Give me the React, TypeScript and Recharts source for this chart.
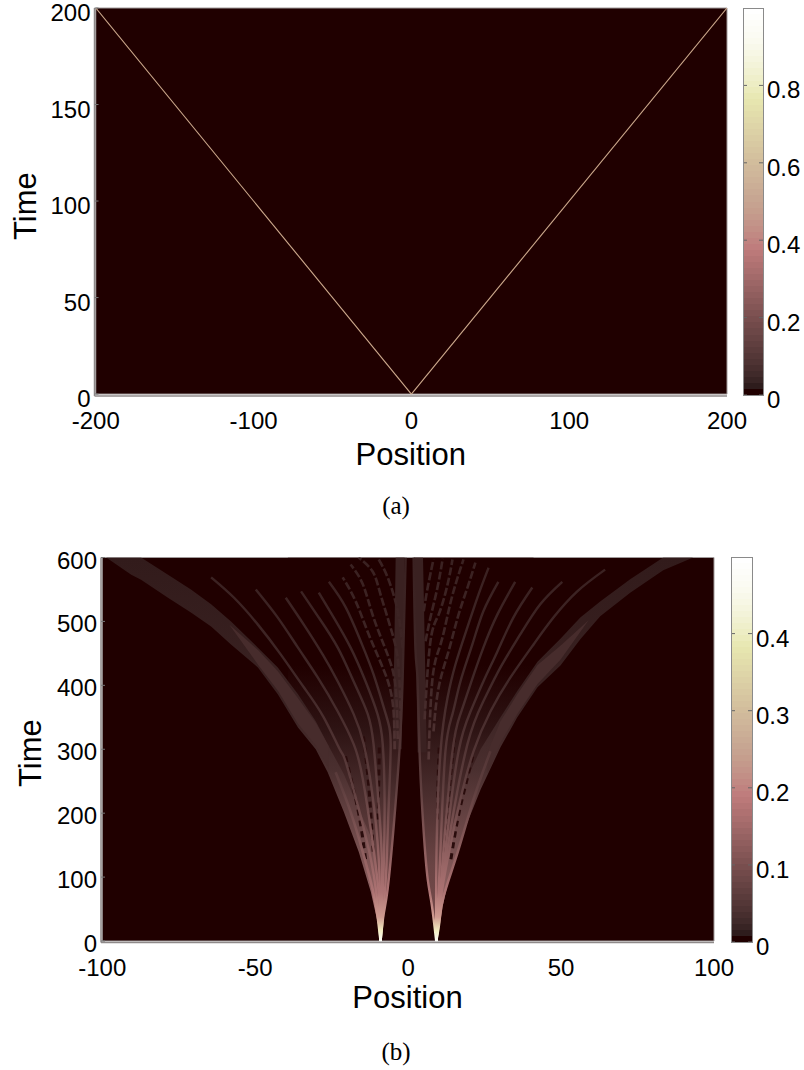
import { Area, Bar, BarChart, ComposedChart, Line, ReferenceArea, XAxis, YAxis } from 'recharts'

const FONT = '"Liberation Sans", Arial, sans-serif'
const BG = '#200000'
const FRAME = '#a09a9a'

// colour bar steps, bottom to top
const barColors = [
  '#200000', '#2e1c1c', '#382424', '#402a2a', '#472e2e', '#4e3333', '#543737', '#5a3b3b',
  '#603f3f', '#664343', '#6c4747', '#724a4a', '#784e4e', '#7e5252', '#845656', '#8a5a5a',
  '#905e5e', '#966262', '#9c6666', '#a36a6a', '#a96e6e', '#af7171', '#b57575', '#bb7979',
  '#bf7d7d', '#c08380', '#c18983', '#c28f86', '#c39489', '#c4998b', '#c59e8d', '#c6a290',
  '#c7a692', '#c9aa94', '#cbae96', '#cdb298', '#cfb69a', '#d0b99b', '#d2bd9c', '#d4c19e',
  '#d6c5a0', '#d8c9a2', '#dacda4', '#dcd1a6', '#ded5a8', '#e0d9aa', '#e2ddab', '#e4e1ad',
  '#e6e5af', '#e8e8b4', '#ebebbc', '#ededc4', '#efefcb', '#f1f1d2', '#f3f3d9', '#f5f5df',
  '#f7f7e5', '#f8f8ea', '#fafaef', '#fbfbf3', '#fcfcf6', '#fdfdf9', '#fefefc', '#ffffff',
]

// panel (a)
const aPosTicks = [-200, -100, 0, 100, 200]
const aTimeTicks = [0, 50, 100, 150, 200]
const aBarTicks = [0, 0.2, 0.4, 0.6, 0.8]
const aLeftFront = [[0, 0], [-200, 200]]
const aRightFront = [[0, 0], [200, 200]]

// panel (b)
const bPosTicks = [-100, -50, 0, 50, 100]
const bTimeTicks = [0, 100, 200, 300, 400, 500, 600]
const bBarTicks = [0, 0.1, 0.2, 0.3, 0.4]

// outer bands: [position, time at lower edge, time at upper edge]
const leftBand = [
  [-98.7, 600, 600], [-90.5, 573, 600], [-87.3, 565, 600], [-78.5, 537, 573], [-71, 514, 550], [-64.4, 492, 527],
  [-57.9, 464, 500], [-49.1, 428, 459], [-42.6, 386, 428], [-36, 334, 386], [-30.2, 300, 344], [-26.3, 264, 308],
  [-21, 202, 261], [-16.1, 139, 206], [-12.2, 77, 163], [-10, 30, 105], [-9, 0, 30], [-8.8, 0, 0],
]
const rightBand = [
  [9.2, 0, 0], [9.6, 0, 50], [11.3, 55, 108], [13.9, 108, 170], [18.1, 170, 242], [23.7, 237, 300], [30.2, 303, 350],
  [35.7, 350, 391], [42.3, 397, 437], [49.8, 431, 473], [56.3, 472, 506], [62.8, 508, 531], [72.6, 545, 566],
  [83.4, 580, 600], [93.2, 600, 600],
]
// brighter strand inside each band
const leftStrand = [[-58.5, 495, 495], [-49, 432, 455], [-42.6, 392, 422], [-36, 340, 380], [-30, 305, 340], [-26, 270, 305]]
const rightStrand = [[26, 262, 295], [30.2, 310, 344], [35.7, 355, 386], [42.3, 402, 432], [49.8, 440, 462], [59, 502, 502]]

const leftBandLine = [[-9, 0], [-10, 40], [-11.6, 81], [-14.8, 139], [-18.8, 202], [-23.7, 264]]
const leftInnerWide = [[-3.6, 300], [-3.2, 409], [-2.6, 600]]
const leftInner = [[-9, 0], [-8, 42], [-6.7, 81], [-4.7, 180], [-2.8, 300], [-1.8, 409], [-0.8, 600]]
const leftFan = [
  [[-9, 0], [-10, 58], [-12.9, 144], [-19.7, 269], [-22, 297], [-27.6, 350], [-34.1, 397], [-41.6, 448], [-49.1, 495], [-56.9, 537], [-64.4, 569]],
  [[-9, 0], [-9.3, 58], [-11.3, 144], [-14.8, 253], [-17.8, 308], [-23, 359], [-29.5, 412], [-36, 459], [-42.6, 506], [-49.8, 550]],
  [[-9, 0], [-9.6, 128], [-11.9, 237], [-14.5, 308], [-17.8, 355], [-23, 406], [-27.9, 448], [-34.1, 495], [-40, 537]],
  [[-9, 0], [-8.6, 128], [-10, 237], [-11.3, 308], [-13.2, 355], [-17.8, 406], [-23, 459], [-29.2, 506], [-35, 547]],
  [[-9, 0], [-8, 112], [-7.7, 222], [-8.3, 308], [-10, 355], [-13.9, 406], [-18.8, 459], [-24.3, 506], [-29.2, 545]],
  [[-9, 0], [-7.3, 97], [-6.4, 206], [-5.7, 308], [-7.3, 355], [-11.3, 417], [-15.5, 469], [-20.4, 522], [-25.9, 562]],
]
const leftFanDashed = [
  [[-4.4, 300], [-5.1, 375], [-8.3, 428], [-12.9, 480], [-17.1, 531], [-21.4, 569]],
  [[-3.4, 316], [-4.1, 397], [-6.7, 448], [-11.3, 506], [-14.8, 558], [-18.8, 589]],
  [[-2.4, 347], [-3.1, 428], [-5.1, 480], [-9, 542], [-11.6, 578], [-16.2, 600]],
  [[-1.8, 459], [-3.4, 516], [-6.7, 569], [-10, 600]],
]
const leftGaps = [
  [[-13.9, 128], [-15.8, 190], [-18, 240], [-20.5, 290]],
  [[-11.4, 140], [-12.2, 200], [-13.2, 260], [-14.6, 320]],
  [[-9.8, 190], [-9.6, 250], [-9.4, 310]],
]
const leftWedge = [[-39.3, 386], [-30.8, 312], [-27.6, 295], [-23.7, 264], [-18.8, 202], [-14.8, 139], [-11.6, 81], [-9, 0], [-8, 42], [-6.7, 81], [-4.7, 180], [-2.8, 300], [-1.8, 409], [-1.2, 600]]

// right source
const rightBandLine = [[9.2, 0], [10.2, 30], [11.6, 70], [16.2, 139], [21.4, 222], [26.9, 297]]
const rightInnerWide = [[4.6, 295], [4.2, 409], [3.4, 600]]
const rightInner = [[9.2, 0], [7.7, 58], [6.4, 97], [5.1, 170], [3.75, 295], [3.1, 409], [2.4, 456], [1.8, 600]]
const rightFan = [
  [[9.2, 0], [9.9, 42], [12.9, 128], [17.1, 222], [21.4, 297], [26.9, 359], [33.4, 412], [41, 464], [47.5, 506], [55.3, 547], [64.4, 581]],
  [[9.2, 0], [10.6, 66], [13.9, 175], [19.4, 308], [24.6, 375], [30.2, 428], [36.7, 480], [43.2, 527], [50.4, 562]],
  [[9.2, 0], [12.6, 159], [16.5, 297], [20.4, 359], [24.6, 406], [29.2, 453], [34.4, 506], [40.6, 553]],
  [[9.2, 0], [11.6, 144], [14.5, 297], [17.1, 355], [20.4, 402], [24.6, 459], [29.2, 511], [35, 562]],
  [[9.2, 0], [10.6, 144], [12.2, 297], [14.5, 355], [17.1, 406], [21, 464], [24.6, 516], [29.5, 562]],
  [[9.2, 0], [9.3, 144], [10.6, 297], [12.9, 381], [15.5, 433], [19.4, 491], [23, 542], [26.3, 584]],
]
const rightFanDashed = [
  [[8.3, 328], [10, 397], [13.2, 453], [16.2, 506], [19.4, 553], [22, 592]],
  [[6.7, 284], [8, 412], [10.6, 464], [13.2, 516], [15.5, 558], [18.1, 597]],
  [[5.4, 347], [7.3, 469], [10, 511], [12.9, 558], [14.5, 597]],
  [[5.7, 469], [7.3, 506], [9.6, 553], [11.3, 598]],
  [[5.1, 516], [6.4, 553], [8.3, 597]],
]
const rightGaps = [
  [[14, 128], [16.2, 190], [18.6, 240], [21.2, 290]],
  [[11.8, 140], [12.8, 200], [13.9, 260], [15.2, 320]],
  [[9.6, 190], [9.8, 250], [10.2, 310]],
]
const rightWedge = [[1.8, 600], [3.1, 409], [3.75, 295], [5.1, 170], [6.4, 97], [7.7, 58], [9.2, 0], [10.2, 30], [11.6, 70], [16.2, 139], [21.4, 222], [26.9, 297], [33.4, 359], [41, 412]]

const pts = (rows: number[][]) => rows.map(([x, t]) => ({ x, t }))
const wedge = (rows: number[][]) =>
  [...rows].sort((a, b) => a[0] - b[0]).map(([x, t]) => ({ x, range: [t, 600] }))
const band = (rows: number[][]) =>
  [...rows].sort((a, b) => a[0] - b[0]).map(([x, lo, hi]) => ({ x, range: [lo, hi] }))

const textStyle = { fontFamily: FONT, fontSize: 24, fill: '#000' }
const labelStyle = { fontFamily: FONT, fontSize: 31, fill: '#000' }

const xTick = (dy: number) => ({ x, y, payload }: any) => (
  <text x={x} y={y + dy} textAnchor="middle" {...textStyle}>{payload.value}</text>
)
// tick label plus the small notch that points into the plot
const yTick = (dy: number) => ({ x, y, payload }: any) => (
  <g>
    <line x1={x + 4} x2={x + 8} y1={y} y2={y} stroke="#777" />
    <text x={x} y={y + dy} textAnchor="end" {...textStyle}>{payload.value}</text>
  </g>
)
const barTick = (barWidth: number) => ({ x, y, payload }: any) => (
  <g>
    <line x1={x - 4} x2={x - 8} y1={y} y2={y} stroke="#666" />
    <line x1={x - 4 - barWidth} x2={x - barWidth} y1={y} y2={y} stroke="#666" />
    <text x={x} y={y + 13} textAnchor="start" {...textStyle}>{payload.value}</text>
  </g>
)

function ColorBar({ top, left, right, bottom, max, ticks }: any) {
  const row: Record<string, number> = {}
  barColors.forEach((_, i) => { row[`c${i}`] = max / barColors.length })
  return (
    <div style={{ position: 'absolute', left: 0, top: 0 }}>
      <BarChart
        width={804}
        height={bottom + 20}
        data={[row]}
        margin={{ top, left, right: 0, bottom: 20 }}
        barCategoryGap={0}
      >
        <XAxis hide />
        <YAxis
          orientation="right"
          width={804 - right}
          domain={[0, max]}
          ticks={ticks}
          axisLine={false}
          tickLine={false}
          tickSize={0}
          tickMargin={4}
          tick={barTick(right - left)}
          interval={0}
        />
        {barColors.map((c, i) => (
          <Bar key={c} dataKey={`c${i}`} stackId="cb" fill={c} shapeRendering="crispEdges" isAnimationActive={false} />
        ))}
      </BarChart>
      <div style={{ position: 'absolute', left, top, width: right - left - 1, height: bottom - top - 1, border: '1px solid #8a8a8a' }} />
    </div>
  )
}

function PanelA() {
  return (
    <div style={{ position: 'absolute', left: 0, top: 0 }}>
      <ComposedChart width={804} height={480} margin={{ top: 8, left: 0, right: 77, bottom: 54 }}>
        <XAxis
          type="number"
          dataKey="x"
          domain={[-200.8, 200]}
          ticks={aPosTicks}
          allowDataOverflow
          height={30}
          interval={0}
          tickLine={false}
          tickSize={0}
          tickMargin={0}
          stroke="#8f8a8a"
          strokeWidth={1.5}
          tick={xTick(33)}
          label={{ value: 'Position', position: 'bottom', offset: 17, style: labelStyle }}
        />
        <YAxis
          type="number"
          domain={[-1, 200]}
          ticks={aTimeTicks}
          allowDataOverflow
          width={94.5}
          interval={0}
          tickLine={false}
          tickSize={0}
          tickMargin={4}
          stroke="#8f8a8a"
          strokeWidth={1.5}
          tick={yTick(13)}
          label={{ value: 'Time', angle: -90, position: 'insideLeft', offset: 25, dy: 38, style: labelStyle }}
        />
        <ReferenceArea x1={-200} x2={200} y1={0} y2={200} fill={BG} fillOpacity={1} stroke={FRAME} />
        <Line data={pts(aLeftFront)} dataKey="t" stroke="#cfab8e" strokeWidth={1.1} dot={false} isAnimationActive={false} />
        <Line data={pts(aRightFront)} dataKey="t" stroke="#cfab8e" strokeWidth={1.1} dot={false} isAnimationActive={false} />
      </ComposedChart>
    </div>
  )
}

function PanelB() {
  const ridge = (rows: number[][], key: string, width: number, stroke = 'url(#ramp)', dash?: string) =>
    <Line
      key={key}
      type="natural"
      data={pts(rows)}
      dataKey="t"
      stroke={stroke}
      strokeWidth={width}
      strokeDasharray={dash}
      dot={false}
      isAnimationActive={false}
    />
  const filled = (data: any[], key: string, fill: string) =>
    <Area
      key={key}
      data={data}
      dataKey="range"
      type="linear"
      fill={fill}
      fillOpacity={1}
      stroke="none"
      dot={false}
      isAnimationActive={false}
    />
  return (
    <div style={{ position: 'absolute', left: 0, top: 500 }}>
      <ComposedChart width={804} height={530} margin={{ top: 57.5, left: 0, right: 90, bottom: 57.5 }}>
        <defs>
          <linearGradient id="ramp" gradientUnits="userSpaceOnUse" x1="0" x2="0" y1="442" y2="58">
            <stop offset="0" stopColor="#ffffff" />
            <stop offset="0.03" stopColor="#f3ecc0" />
            <stop offset="0.065" stopColor="#cf9a90" />
            <stop offset="0.13" stopColor="#ad7373" />
            <stop offset="0.25" stopColor="#8a5c5c" />
            <stop offset="0.4" stopColor="#5f3f3f" />
            <stop offset="0.55" stopColor="#4c3030" />
            <stop offset="0.7" stopColor="#3f2626" />
            <stop offset="1" stopColor="#3a2121" />
          </linearGradient>
          <linearGradient id="fill" gradientUnits="userSpaceOnUse" x1="0" x2="0" y1="442" y2="58">
            <stop offset="0" stopColor="#7a4c4c" />
            <stop offset="0.2" stopColor="#6a4444" />
            <stop offset="0.4" stopColor="#472b2b" />
            <stop offset="0.55" stopColor="#2e1414" />
            <stop offset="0.72" stopColor={BG} />
          </linearGradient>
          <linearGradient id="bandFill" gradientUnits="userSpaceOnUse" x1="0" x2="0" y1="442" y2="58">
            <stop offset="0" stopColor="#e8c0a0" />
            <stop offset="0.06" stopColor="#b87a7a" />
            <stop offset="0.15" stopColor="#8a5e5e" />
            <stop offset="0.3" stopColor="#6a4646" />
            <stop offset="0.45" stopColor="#4a2f2f" />
            <stop offset="0.62" stopColor="#3a2222" />
            <stop offset="1" stopColor="#321b1b" />
          </linearGradient>
        </defs>
        <XAxis
          type="number"
          dataKey="x"
          domain={[-100.4, 100]}
          ticks={bPosTicks}
          allowDataOverflow
          height={30}
          interval={0}
          tickLine={false}
          tickSize={0}
          tickMargin={0}
          stroke="#8f8a8a"
          strokeWidth={1.5}
          tick={xTick(33)}
          label={{ value: 'Position', position: 'bottom', offset: 13, style: labelStyle }}
        />
        <YAxis
          type="number"
          domain={[-2.3, 600]}
          ticks={bTimeTicks}
          allowDataOverflow
          width={101}
          interval={0}
          tickLine={false}
          tickSize={0}
          tickMargin={4}
          stroke="#8f8a8a"
          strokeWidth={1.5}
          tick={yTick(11)}
          label={{ value: 'Time', angle: -90, position: 'insideLeft', offset: 30, dy: 37, style: labelStyle }}
        />
        <ReferenceArea x1={-100} x2={100} y1={0} y2={600} fill={BG} fillOpacity={1} stroke={FRAME} />
        {filled(wedge(leftWedge), 'lw', 'url(#fill)')}
        {filled(wedge(rightWedge), 'rw', 'url(#fill)')}
        {filled(band(leftBand), 'lb', 'url(#bandFill)')}
        {filled(band(rightBand), 'rb', 'url(#bandFill)')}
        {filled(band(leftStrand), 'ls', '#472c2c')}
        {filled(band(rightStrand), 'rs', '#472c2c')}

        {ridge(leftInnerWide, 'liw', 9, '#3a2121')}
        {ridge(rightInnerWide, 'riw', 9, '#3a2121')}
        {leftGaps.map((g, i) => ridge(g, `lg${i}`, 3, '#2a0c0c', '6 5'))}
        {rightGaps.map((g, i) => ridge(g, `rg${i}`, 3, '#2a0c0c', '6 5'))}
        {leftFan.map((r, i) => ridge(r, `lf${i}`, 2.4))}
        {rightFan.map((r, i) => ridge(r, `rf${i}`, 2.4))}
        {leftFanDashed.map((r, i) => ridge(r, `ld${i}`, 2.6, 'url(#ramp)', '8 2.5'))}
        {rightFanDashed.map((r, i) => ridge(r, `rd${i}`, 2.6, 'url(#ramp)', '8 2.5'))}
        {ridge(leftBandLine, 'lbl', 2.6)}
        {ridge(rightBandLine, 'rbl', 2.6)}
        {ridge(leftInner, 'li', 2.4)}
        {ridge(rightInner, 'ri', 2.4)}
      </ComposedChart>
    </div>
  )
}

const captionStyle: React.CSSProperties = {
  position: 'absolute',
  width: 60,
  textAlign: 'center',
  fontFamily: '"Liberation Serif", serif',
  fontSize: 25,
  color: '#000',
}

export default function App() {
  return (
    <div style={{ position: 'absolute', left: 0, top: 0, width: 804, height: 1070, background: '#fff' }}>
      <PanelA />
      <ColorBar left={743} right={763} top={8} bottom={395} max={1} ticks={aBarTicks} />
      <div style={{ ...captionStyle, left: 366, top: 492 }}>(a)</div>
      <PanelB />
      <ColorBar left={731} right={752} top={556.5} bottom={942} max={0.5} ticks={bBarTicks} />
      <div style={{ ...captionStyle, left: 366, top: 1038 }}>(b)</div>
    </div>
  )
}
